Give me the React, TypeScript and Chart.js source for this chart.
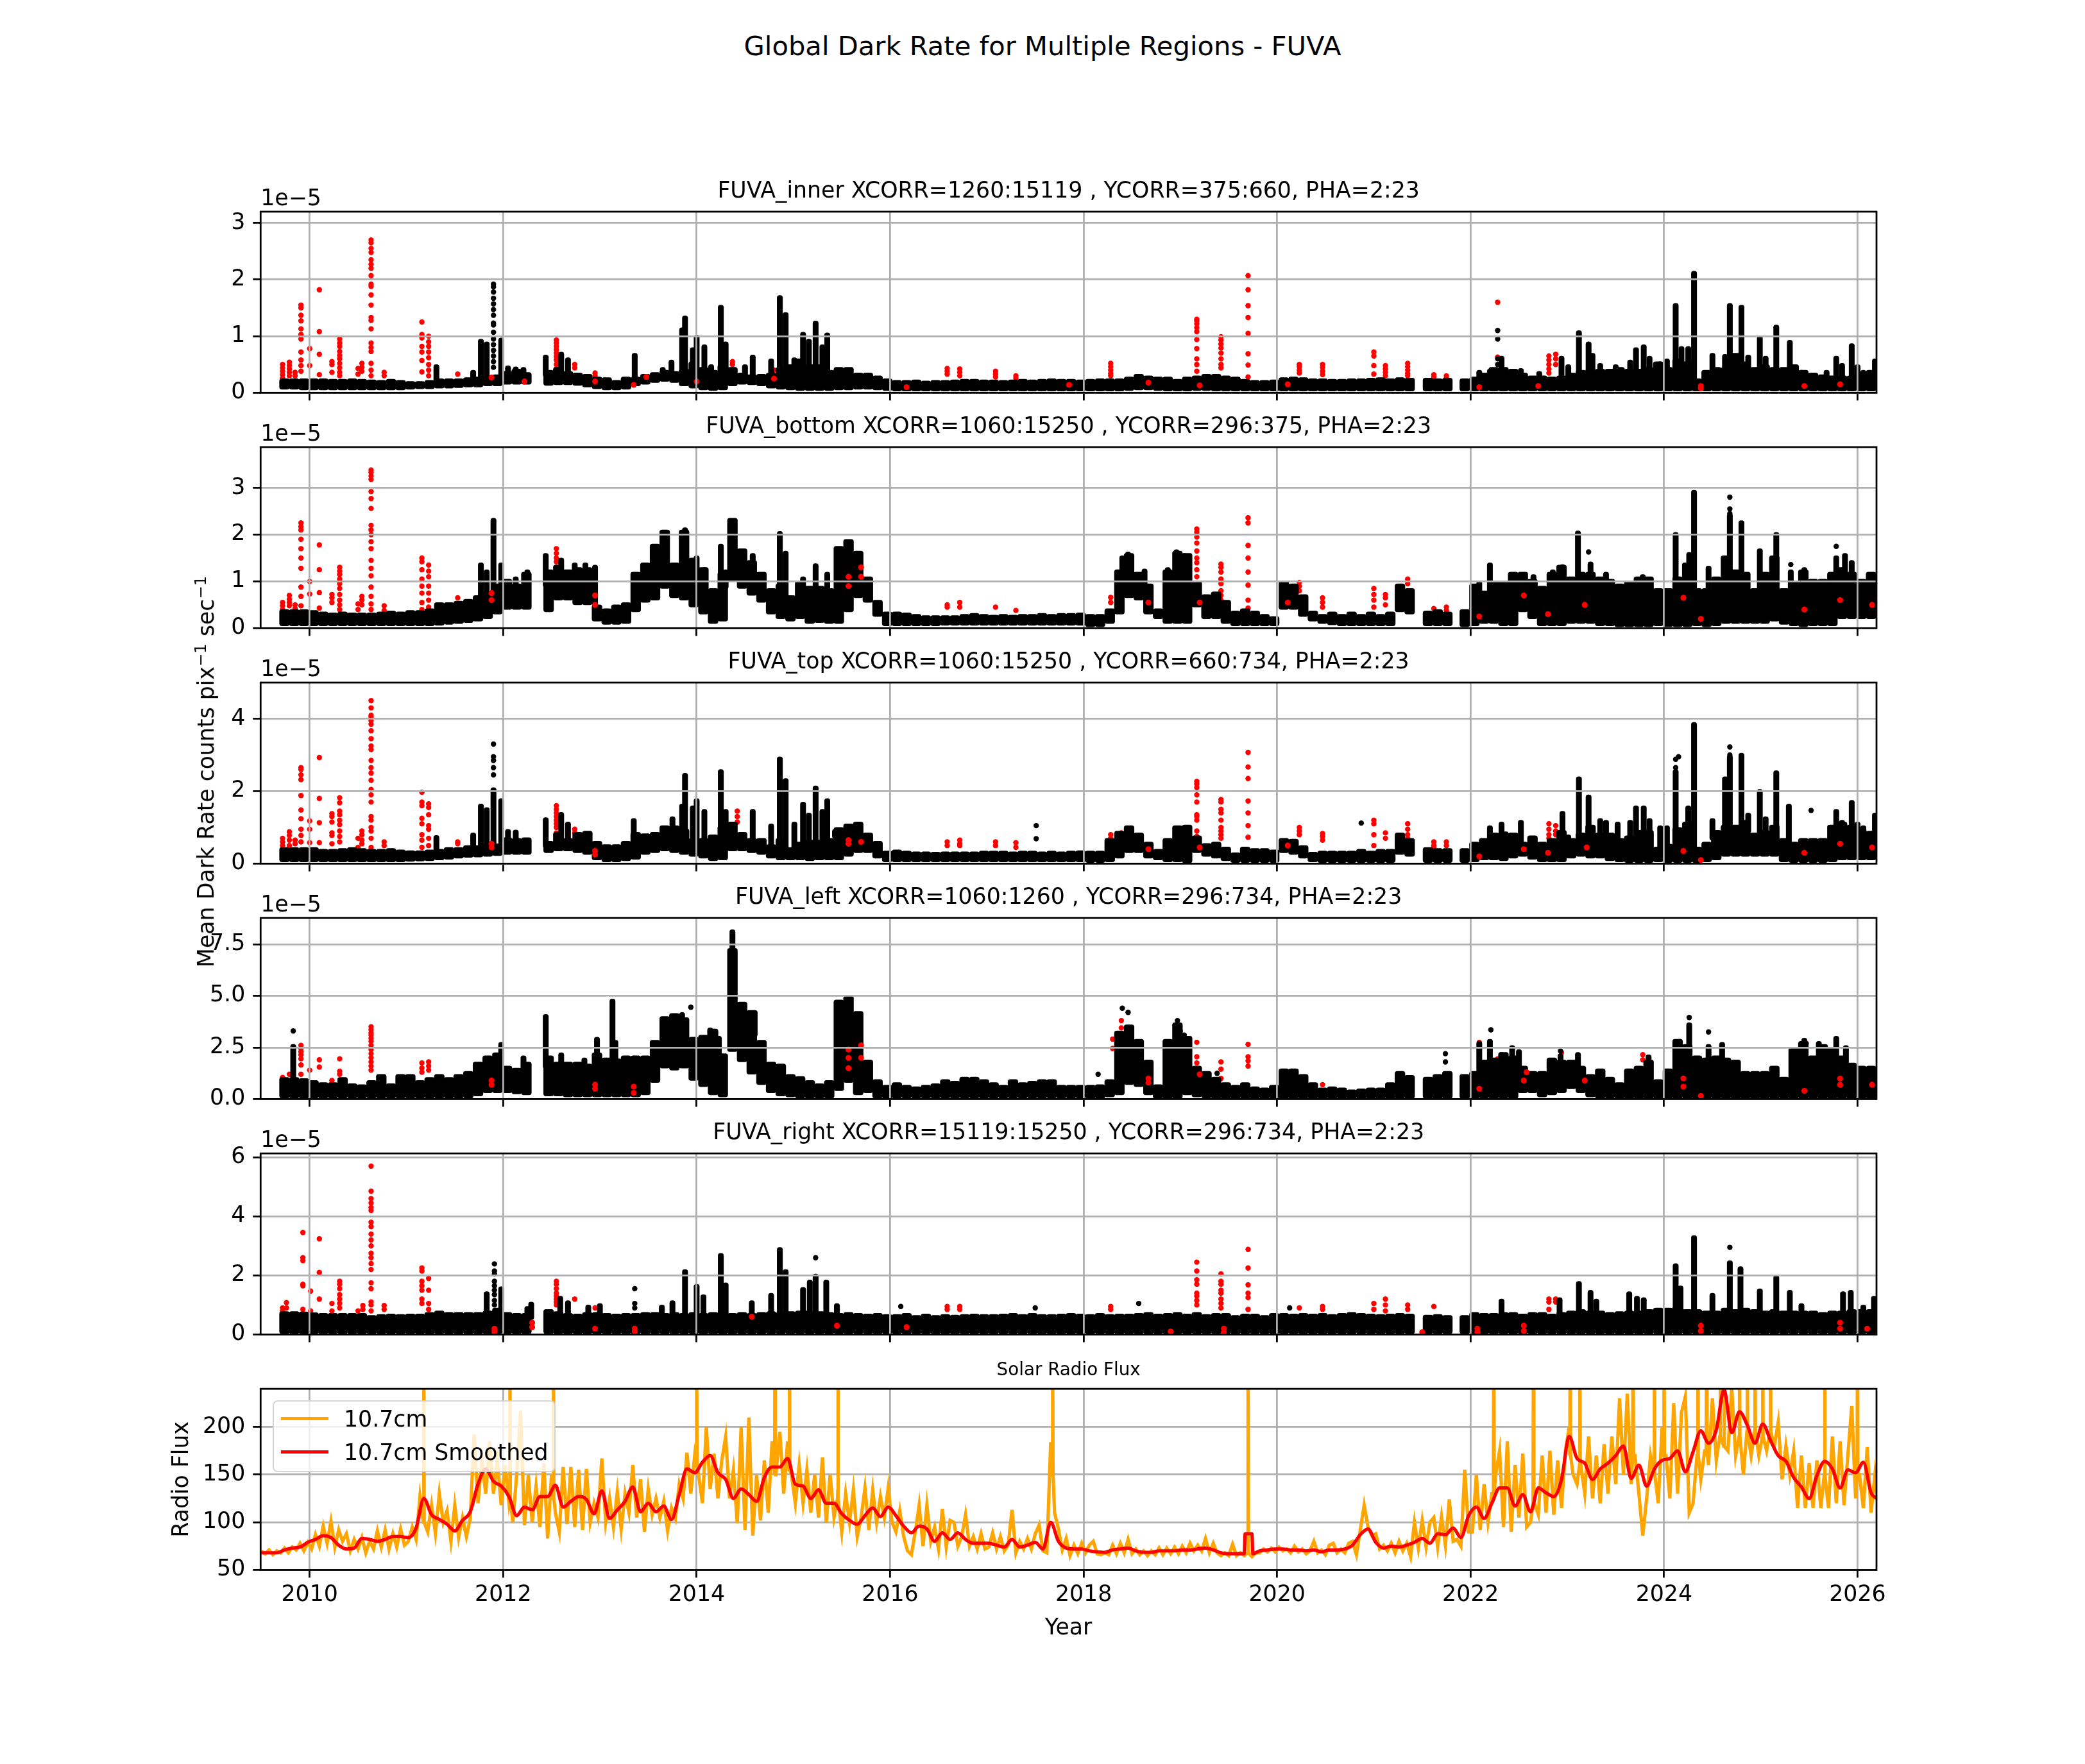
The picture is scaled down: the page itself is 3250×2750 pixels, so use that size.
import { useEffect, useRef } from "react";
import Chart from "chart.js/auto";

const FONT = "DejaVu Sans";
const TICK_PT = 34.72;
const LINE = 2.78;
const GRID_COLOR = "#b0b0b0";

// x positions of the dense black range marks, holes in the data are left out
const bandYears = [
	2009.74, 2009.84, 2009.94,
	2010.04, 2010.14, 2010.24, 2010.34, 2010.44, 2010.54, 2010.64, 2010.74, 2010.84, 2010.94,
	2011.04, 2011.14, 2011.24, 2011.34, 2011.44, 2011.54, 2011.64, 2011.74, 2011.84, 2011.94,
	2012.04, 2012.14, 2012.24,
	2012.47, 2012.57, 2012.67, 2012.77, 2012.87, 2012.97,
	2013.07, 2013.17, 2013.27, 2013.37, 2013.47, 2013.57, 2013.67, 2013.77, 2013.87, 2013.97,
	2014.07, 2014.17, 2014.27, 2014.37, 2014.47, 2014.57, 2014.67, 2014.77, 2014.87, 2014.97,
	2015.07, 2015.17, 2015.27, 2015.37, 2015.47, 2015.57, 2015.67, 2015.77, 2015.87, 2015.97,
	2016.07, 2016.17, 2016.27, 2016.37, 2016.47, 2016.57, 2016.67, 2016.77, 2016.87, 2016.97,
	2017.07, 2017.17, 2017.27, 2017.37, 2017.47, 2017.57, 2017.67, 2017.77, 2017.87, 2017.97,
	2018.07, 2018.17, 2018.27, 2018.37, 2018.47, 2018.57, 2018.67, 2018.77, 2018.87, 2018.97,
	2019.07, 2019.17, 2019.27, 2019.37, 2019.47, 2019.57, 2019.67, 2019.77, 2019.87, 2019.97,
	2020.07, 2020.17, 2020.27, 2020.37, 2020.47, 2020.57, 2020.67, 2020.77, 2020.87, 2020.97,
	2021.07, 2021.17, 2021.27, 2021.37,
	2021.56, 2021.66, 2021.76,
	2021.94,
	2022.04, 2022.14, 2022.24, 2022.34, 2022.44, 2022.54, 2022.64, 2022.74, 2022.84, 2022.94,
	2023.04, 2023.14, 2023.24, 2023.34, 2023.44, 2023.54, 2023.64, 2023.74, 2023.84, 2023.94,
	2024.04, 2024.14, 2024.24, 2024.34, 2024.44, 2024.54, 2024.64, 2024.74, 2024.84, 2024.94,
	2025.04, 2025.14, 2025.24, 2025.34, 2025.44, 2025.54, 2025.64, 2025.74, 2025.84, 2025.94,
	2026.04, 2026.14, 2026.24,
];

const innerHigh = [
	.25, .25, .25,
	.25, .25, .24, .24, .25, .24, .23, .22, .24, .22,
	.2, .2, .22, .25, .25, .25, .27, .28, .28, .32,
	.38, .42, .36,
	.4, .45, .38, .35, .33, .28,
	.27, .22, .28, .28, .33, .36, .4, .38, .42, .55,
	.45, .4, .5, .45, .35, .32, .33, .35, .45, .5,
	.6, .5, .5, .4, .45, .45, .35, .35, .3, .25,
	.22, .22, .23, .21, .22, .22, .23, .24, .24, .23,
	.23, .22, .23, .24, .23, .24, .25, .24, .24, .23,
	.24, .25, .25, .25, .28, .33, .3, .28, .28, .24,
	.28, .3, .33, .33, .3, .28, .24, .22, .22, .23,
	.27, .28, .27, .25, .25, .24, .24, .25, .25, .26,
	.27, .25, .27, .26,
	.26, .25, .26,
	.25,
	.28, .35, .45, .45, .42, .35, .3, .3, .28, .3,
	.35, .4, .42, .42, .42, .45, .42, .42, .45, .55,
	.45, .6, .55, .25, .4, .45, .45, .7, .55, .45,
	.5, .45, .45, .5, .4, .35, .32, .3, .3, .3,
	.35, .4, .55,
];
const innerLow = [
	.06, .06, .05,
	.05, .05, .05, .05, .05, .05, .05, .05, .05, .05,
	.06, .07, .07, .08, .08, .09, .1, .1, .12, .12,
	.15, .15, .15,
	.13, .14, .14, .13, .1, .07,
	.05, .05, .06, .12, .15, .18, .2, .18, .12, .08,
	.05, .04, .05, .12, .15, .14, .12, .08, .06, .05,
	.04, .04, .04, .04, .05, .05, .06, .06, .05, .04,
	.03, .03, .03, .03, .03, .03, .03, .03, .03, .03,
	.03, .03, .03, .03, .03, .03, .03, .03, .03, .03,
	.03, .03, .03, .03, .04, .05, .05, .04, .03, .03,
	.03, .04, .04, .03, .03, .03, .03, .03, .03, .03,
	.03, .03, .03, .03, .03, .03, .03, .03, .03, .03,
	.03, .03, .03, .03,
	.03, .03, .03,
	.03,
	.03, .03, .03, .03, .03, .03, .03, .03, .03, .03,
	.03, .03, .03, .03, .03, .03, .03, .03, .03, .03,
	.03, .03, .03, .03, .03, .03, .03, .03, .03, .03,
	.03, .03, .03, .03, .03, .03, .03, .03, .03, .03,
	.03, .03, .03,
];
const innerSpikes = [
	[2011.31, .5], [2011.69, .4], [2011.77, .95], [2011.83, .9], [2011.98, .97], [2012.05, .48], [2012.13, .46], [2012.21, .45],
	[2012.44, .67], [2012.6, .72], [2012.67, .62], [2013.36, .7], [2013.65, .45], [2013.74, .58], [2013.85, 1.15], [2013.88, 1.36],
	[2013.96, .8], [2014.0, 1.02], [2014.08, .85], [2014.15, .5], [2014.25, 1.55], [2014.3, .9], [2014.5, .5], [2014.58, .67],
	[2014.77, .6], [2014.86, 1.72], [2014.92, 1.42], [2015.01, .62], [2015.1, 1.07], [2015.16, .95], [2015.23, 1.27], [2015.3, .85],
	[2015.35, 1.06], [2015.44, .4], [2022.09, .4], [2022.2, .42], [2022.32, .65], [2022.52, .43], [2022.71, .38], [2022.94, .65],
	[2023.01, .5], [2023.12, 1.1], [2023.22, .9], [2023.26, .7], [2023.34, .52], [2023.5, .5], [2023.65, .58], [2023.71, .8],
	[2023.79, .85], [2023.85, .65], [2023.96, .55], [2024.03, .6], [2024.12, 1.58], [2024.18, .82], [2024.25, .82], [2024.31, 2.15],
	[2024.5, .7], [2024.63, .68], [2024.68, 1.58], [2024.8, 1.55], [2024.87, .67], [2024.99, 1.0], [2025.05, .65], [2025.16, 1.2],
	[2025.3, .93], [2025.42, .4], [2025.68, .4], [2025.78, .65], [2025.84, .52], [2025.94, .87], [2026.0, .5], [2026.06, .4], [2026.18, .6],
];
// each column: year, then the values of the dots in it
const innerBlack = [
	[2011.9, 1.92, 1.87, 1.78, 1.67, 1.57, 1.47, 1.37, 1.23, 1.2, 1.07, .95, .85, .75, .65, .55, .45],
	[2022.28, 1.1, .95, .6, .5],
];
const innerRed = [
	[2009.72, .5, .44, .38, .32, .26],
	[2009.79, .54, .48, .42, .36, .3],
	[2009.85, .36, .3],
	[2009.91, 1.55, 1.5, 1.37, 1.27, 1.13, 1.03, .95, .72, .58, .48, .38],
	[2010.0, .78, .48],
	[2010.1, 1.82, 1.08, .68, .32],
	[2010.23, .55, .5, .36],
	[2010.31, .95, .88, .82, .73, .66, .6, .52, .44, .36, .3],
	[2010.5, .43, .33],
	[2010.54, .52, .45, .38],
	[2010.635, 2.7, 2.65, 2.55, 2.48, 2.35, 2.27, 2.2, 2.07, 1.92, 1.88, 1.73, 1.55, 1.33, 1.28, 1.13, .88, .8, .73, .52, .4, .3],
	[2010.77, .36, .3],
	[2011.16, 1.25, 1.03, .97, .82, .72, .57, .37],
	[2011.23, 1.0, .9, .82, .72, .62, .5, .4, .3],
	[2011.53, .33],
	[2012.55, .93, .88, .82, .76, .7, .64, .58, .5, .42],
	[2012.74, .5, .44],
	[2012.95, .35, .3],
	[2014.37, .55, .5],
	[2014.8, .4],
	[2016.59, .43, .38, .33],
	[2016.72, .42, .36, .3],
	[2017.09, .38, .33, .28],
	[2017.3, .3, .26],
	[2018.28, .52, .46, .4, .34, .3],
	[2019.17, 1.3, 1.27, 1.22, 1.15, 1.08, .94, .78, .6, .5, .38],
	[2019.42, .99, .93, .86, .79, .7, .6, .5, .44],
	[2019.7, 2.07, 1.82, 1.54, 1.33, 1.05, .69, .49, .28],
	[2020.23, .5, .46, .4, .35],
	[2020.47, .5, .45, .38, .32],
	[2021.0, .72, .65, .48, .33],
	[2021.12, .48, .42, .36, .3],
	[2021.35, .52, .46, .4, .34, .3],
	[2021.62, .32, .28],
	[2021.75, .3, .26],
	[2022.28, 1.6, .63],
	[2022.81, .65, .58, .5, .42, .35],
	[2022.88, .68, .6, .5],
];
const innerBlobs = [
	[2011.88, .27], [2012.22, .2], [2012.95, .2], [2013.35, .14], [2013.48, .28], [2014.0, .2], [2014.8, .25],
	[2016.17, .1], [2017.85, .14], [2018.67, .18], [2019.2, .13], [2020.11, .15], [2022.09, .1], [2022.7, .12],
	[2024.38, .08], [2024.38, .12], [2025.45, .12], [2025.82, .15],
];

const bottomHigh = [
	.4, .4, .4,
	.38, .35, .33, .35, .33, .33, .33, .35, .37, .35,
	.38, .38, .42, .55, .55, .58, .62, .7, .78, .95,
	1.05, .95, 1.2,
	1.25, 1.35, 1.25, 1.3, 1.3, .5,
	.42, .5, .55, 1.2, 1.4, 1.8, 2.1, 1.4, 2.1, 1.5,
	1.3, .85, 1.2, 2.35, 1.7, 1.45, 1.2, .85, .95, .7,
	1.0, .9, .9, .85, 1.75, 1.9, 1.65, 1.1, .6, .35,
	.35, .33, .3, .27, .27, .27, .27, .3, .32, .3,
	.28, .3, .28, .3, .3, .32, .3, .32, .32, .33,
	.3, .3, .42, 1.25, 1.6, 1.2, .95, .42, 1.25, 1.65,
	1.6, 1.0, .72, .78, .6, .37, .42, .37, .3, .25,
	1.0, .95, .72, .37, .3, .35, .3, .35, .3, .35,
	.3, .35, .95, .85,
	.37, .4, .35,
	.4,
	.95, .8, 1.0, 1.0, 1.2, 1.2, 1.05, .9, 1.2, 1.35,
	1.1, 1.2, 1.2, 1.1, 1.05, .95, 1.0, 1.1, 1.1, .85,
	.85, 1.1, 1.4, .85, .85, 1.1, 1.55, 1.25, 1.2, .85,
	1.2, 1.55, .85, 1.0, 1.25, 1.05, 1.05, 1.2, 1.3, 1.2,
	1.05, 1.2, 1.2,
];
const bottomLow = [
	.05, .05, .05,
	.05, .05, .05, .05, .05, .05, .05, .05, .05, .05,
	.05, .05, .05, .06, .08, .1, .12, .15, .2, .3,
	.4, .4, .4,
	.35, .6, .6, .5, .5, .15,
	.08, .08, .1, .35, .55, .6, .85, .65, .6, .45,
	.3, .1, .15, 1.0, .85, .7, .55, .3, .2, .15,
	.2, .1, .12, .1, .1, .35, .65, .55, .25, .05,
	.05, .05, .05, .05, .05, .06, .06, .06, .06, .06,
	.06, .06, .06, .06, .06, .06, .06, .06, .06, .06,
	.03, .03, .1, .3, .65, .6, .3, .2, .1, .1,
	.1, .45, .2, .2, .1, .05, .05, .05, .05, .05,
	.4, .4, .25, .15, .1, .07, .05, .05, .05, .05,
	.05, .05, .35, .3,
	.05, .05, .05,
	.03,
	.05, .1, .1, .05, .05, .35, .2, .05, .05, .05,
	.1, .1, .1, .05, .05, .03, .03, .03, .03, .05,
	.03, .03, .03, .05, .03, .05, .1, .1, .1, .1,
	.1, .15, .08, .05, .03, .05, .05, .05, .2, .2,
	.2, .2, .2,
];
const bottomSpikes = [
	[2011.77, 1.4], [2011.83, 1.25], [2011.9, 2.35], [2011.98, 1.4], [2012.13, 1.1], [2012.25, 1.25], [2012.44, 1.6], [2012.6, 1.5],
	[2012.74, 1.4], [2012.85, 1.4], [2012.95, 1.35], [2013.36, 1.1], [2013.88, 2.15], [2014.0, 1.55], [2014.08, 1.3], [2014.25, 1.8],
	[2014.3, 1.25], [2014.58, 1.6], [2014.86, 2.07], [2014.92, 1.65], [2015.1, 1.1], [2015.23, 1.38], [2015.35, 1.2], [2018.4, 1.55],
	[2018.46, 1.63], [2018.63, 1.27], [2018.87, 1.3], [2018.96, 1.68], [2019.04, 1.6], [2022.09, 1.0], [2022.2, 1.4], [2022.65, 1.15],
	[2022.85, 1.25], [2022.95, 1.36], [2023.11, 2.08], [2023.24, 1.42], [2023.4, 1.2], [2023.78, 1.15], [2024.12, 2.05], [2024.26, 1.62],
	[2024.31, 2.95], [2024.46, 1.33], [2024.65, 1.55], [2024.68, 2.45], [2024.8, 2.3], [2024.99, 1.7], [2025.16, 2.05], [2025.31, 1.25],
	[2025.45, 1.3], [2025.78, 1.55], [2025.87, 1.6], [2025.94, 1.45],
];
const bottomBlack = [
	[2024.68, 2.8, 2.55, 2.45],
	[2023.22, 1.63],
	[2025.31, 1.36],
	[2025.78, 1.75],
];
const bottomRed = [
	[2009.72, .55, .48, .4],
	[2009.79, .7, .62, .55, .48],
	[2009.85, .5, .42],
	[2009.91, 2.25, 2.17, 2.1, 1.9, 1.7, 1.5, 1.28, .88, .68, .48],
	[2010.0, 1.0, .73],
	[2010.1, 1.78, 1.25, .76, .43],
	[2010.23, .72, .65, .55],
	[2010.31, 1.3, 1.22, 1.15, 1.05, .95, .85, .72, .6, .5, .4],
	[2010.5, .52, .4],
	[2010.54, .68, .6, .5],
	[2010.635, 3.38, 3.33, 3.25, 3.18, 2.92, 2.77, 2.56, 2.2, 2.1, 2.0, 1.85, 1.7, 1.45, 1.28, 1.12, .88, .68, .52, .4],
	[2010.77, .48, .38],
	[2011.16, 1.5, 1.42, 1.25, 1.05, .9, .75, .55, .4],
	[2011.23, 1.35, 1.22, 1.1, .9, .75, .6, .45],
	[2011.53, .65],
	[2012.55, 1.7, 1.6, 1.5, 1.42, 1.3, 1.2],
	[2014.39, 2.05, 1.8],
	[2016.59, .5, .45],
	[2016.72, .55, .45],
	[2017.09, .45],
	[2017.3, .38],
	[2018.28, .66, .55],
	[2019.17, 2.12, 2.05, 1.95, 1.82, 1.65, 1.5, 1.4, 1.25, 1.1, .95],
	[2019.42, 1.37, 1.3, 1.2, 1.05, .95, .8, .7, .6],
	[2019.7, 2.36, 2.25, 1.77, 1.5, 1.2, .92, .6, .43],
	[2020.23, .98, .9, .8],
	[2020.47, .65, .55, .45],
	[2021.0, .85, .72, .6, .45],
	[2021.12, .72, .65, .5],
	[2021.35, 1.05, .95, .8],
	[2021.62, .42],
	[2021.75, .45, .38],
];
const bottomBlobs = [
	[2011.88, .6], [2011.88, .75], [2012.95, .5], [2012.95, .7], [2015.57, .9], [2015.57, 1.1], [2015.7, 1.3], [2015.7, 1.1], [2018.67, .55],
	[2019.2, .55], [2020.11, .55], [2022.09, .25], [2022.55, .7], [2022.8, .3], [2023.18, .5], [2024.2, .65], [2024.38, .2], [2025.45, .4],
	[2025.82, .6], [2026.15, .5],
];

const topHigh = [
	.45, .45, .45,
	.45, .4, .4, .42, .45, .42, .4, .4, .42, .38,
	.36, .36, .38, .4, .45, .45, .5, .5, .55, .55,
	.72, .7, .72,
	.62, .87, .7, .87, .9, .62,
	.53, .53, .62, .87, .83, .87, 1.05, 1.05, .96, .7,
	.7, .8, 1.05, 1.15, .87, .7, .7, .53, .7, .45,
	.6, .65, .65, .7, 1.0, 1.1, 1.15, .85, .62, .35,
	.38, .35, .33, .33, .32, .33, .33, .33, .33, .35,
	.35, .35, .33, .35, .35, .33, .35, .33, .35, .36,
	.35, .35, .7, .9, 1.05, .85, .6, .4, .7, 1.05,
	1.07, .77, .56, .6, .46, .3, .46, .42, .42, .38,
	.7, .68, .5, .32, .35, .35, .35, .35, .4, .35,
	.4, .4, .85, .7,
	.45, .42, .42,
	.42,
	.6, .7, .85, .88, .85, .6, .77, .6, .7, .92,
	.7, .85, 1.07, .85, .85, .7, .77, .92, .92, .46,
	.54, 1.0, 1.15, .46, .6, .92, 1.07, 1.07, 1.2, .85,
	.92, 1.07, .7, .6, .7, .7, .7, 1.07, 1.15, 1.07,
	.95, .9, 1.0,
];
const topLow = [
	.05, .05, .05,
	.05, .05, .05, .05, .05, .05, .05, .05, .05, .05,
	.06, .07, .08, .1, .12, .15, .17, .18, .2, .22,
	.25, .25, .25,
	.3, .35, .35, .3, .25, .1,
	.05, .05, .08, .12, .25, .3, .35, .3, .25, .2,
	.15, .08, .1, .35, .35, .3, .25, .15, .1, .1,
	.1, .08, .1, .1, .1, .2, .3, .3, .15, .05,
	.05, .05, .05, .05, .05, .05, .05, .05, .05, .05,
	.05, .05, .05, .05, .05, .05, .05, .05, .05, .05,
	.03, .03, .05, .15, .3, .3, .15, .1, .05, .05,
	.02, .3, .2, .15, .08, .03, .03, .03, .03, .03,
	.3, .25, .15, .05, .03, .03, .03, .03, .03, .03,
	.03, .03, .25, .2,
	.03, .03, .03,
	.03,
	.05, .1, .1, .08, .15, .2, .12, .05, .05, .05,
	.15, .2, .15, .15, .08, .05, .03, .03, .03, .05,
	.03, .03, .03, .03, .05, .1, .2, .2, .2, .2,
	.2, .2, .05, .03, .03, .03, .03, .05, .1, .1,
	.1, .1, .1,
];
const topSpikes = [
	[2011.31, .78], [2011.69, .85], [2011.77, 1.65], [2011.83, 1.55], [2011.9, 2.1], [2011.98, 1.8], [2012.05, .95], [2012.13, .93],
	[2012.44, 1.27], [2012.6, 1.42], [2012.67, 1.15], [2013.35, 1.25], [2013.75, 1.3], [2013.85, 1.65], [2013.88, 2.5], [2013.96, 1.6],
	[2014.0, 1.8], [2014.08, 1.5], [2014.25, 2.6], [2014.3, 1.5], [2014.58, 1.5], [2014.77, 1.1], [2014.86, 2.95], [2014.92, 2.35],
	[2015.01, 1.15], [2015.1, 1.7], [2015.16, 1.4], [2015.23, 2.15], [2015.3, 1.5], [2015.35, 1.8], [2015.43, .95], [2022.2, 1.05],
	[2022.32, 1.15], [2022.52, 1.2], [2022.95, 1.45], [2023.01, .8], [2023.12, 2.4], [2023.22, 1.9], [2023.34, 1.25], [2023.4, 1.2],
	[2023.52, 1.15], [2023.65, 1.2], [2023.71, 1.6], [2023.79, 1.6], [2023.85, 1.25], [2023.96, 1.05], [2024.03, 1.05], [2024.12, 2.6],
	[2024.25, 1.6], [2024.31, 3.9], [2024.5, 1.25], [2024.63, 2.4], [2024.68, 3.0], [2024.8, 3.05], [2024.87, 1.4], [2024.99, 2.05],
	[2025.05, 1.3], [2025.16, 2.57], [2025.29, 1.65], [2025.78, 1.5], [2025.84, 1.2], [2025.94, 1.75], [2026.0, 1.15], [2026.06, 1.05], [2026.18, 1.4],
];
const topBlack = [
	[2011.9, 3.3, 2.95, 2.85, 2.65, 2.45],
	[2017.51, 1.05, .69],
	[2020.87, 1.12],
	[2024.12, 2.88, 2.65],
	[2024.15, 2.95],
	[2024.68, 3.22, 3.0],
	[2025.52, 1.47],
];
const topRed = [
	[2009.72, .7, .6, .5],
	[2009.79, .88, .78, .65, .5],
	[2009.85, .65, .55],
	[2009.91, 2.65, 2.6, 2.45, 2.32, 1.88, 1.48, 1.24, .95, .78, .6],
	[2010.0, 1.18, .95, .58],
	[2010.1, 2.93, 1.8, 1.13, .58],
	[2010.23, 1.38, 1.3, 1.15, .85, .78, .55],
	[2010.31, 1.82, 1.68, 1.45, 1.35, 1.2, 1.08, .9, .75, .6],
	[2010.5, .7, .45],
	[2010.54, .9, .8, .65, .55],
	[2010.635, 4.5, 4.3, 4.1, 4.05, 3.95, 3.85, 3.67, 3.45, 3.25, 3.15, 2.85, 2.65, 2.5, 2.3, 2.05, 1.9, 1.7, 1.3, 1.2, 1.0, .9, .7, .45],
	[2010.77, .6, .5],
	[2011.16, 1.97, 1.7, 1.6, 1.25, 1.1, .8, .65, .45],
	[2011.23, 1.65, 1.55, 1.35, 1.05, .95, .7, .5],
	[2011.53, .6, .55],
	[2012.55, 1.6, 1.5, 1.4, 1.3, 1.2, 1.1, 1.0, .85],
	[2012.74, .95, .85],
	[2012.95, .55, .45],
	[2014.42, 1.45, 1.3, 1.15],
	[2016.59, .6, .5],
	[2016.72, .65, .55, .5],
	[2017.09, .6, .5],
	[2017.3, .58, .45],
	[2018.28, .8, .7, .6, .5],
	[2018.39, .85, .75],
	[2019.17, 2.27, 2.2, 2.1, 1.9, 1.7, 1.35, 1.3, 1.2, .9, .75],
	[2019.42, 1.77, 1.7, 1.5, 1.4, 1.2, 1.0, .9, .8, .7],
	[2019.7, 3.07, 2.67, 2.35, 1.73, 1.4, 1.05, .73, .35],
	[2020.23, 1.0, .9, .8],
	[2020.47, .83, .75, .65],
	[2021.0, 1.2, 1.1, .8, .5],
	[2021.12, .85, .7],
	[2021.35, 1.1, .95, .8, .7],
	[2021.62, .6, .5, .45],
	[2021.75, .6, .5],
	[2022.81, 1.1, .95, .8, .7],
	[2022.88, 1.05, .9, .8],
];
const topBlobs = [
	[2011.88, .55], [2011.88, .45], [2012.95, .35], [2012.95, .25], [2015.57, .65], [2015.57, .55], [2015.7, .6], [2018.67, .4], [2019.2, .45],
	[2020.11, .5], [2022.09, .2], [2022.55, .4], [2022.8, .3], [2023.2, .45], [2024.2, .35], [2024.38, .1], [2025.45, .3], [2025.82, .55], [2026.15, .45],
];

const leftHigh = [
	1.05, 1.05, 1.0,
	.9, .8, .8, 1.05, .75, .7, .9, 1.2, .75, 1.2,
	1.2, .9, 1.05, 1.2, 1.05, 1.2, 1.35, 1.8, 2.1, 2.25,
	1.6, 1.5, 1.8,
	2.1, 1.8, 1.8, 1.8, 1.7, 2.25,
	2.0, 1.95, 2.1, 2.1, 2.1, 2.85, 4.0, 4.15, 3.95, 3.0,
	3.1, 3.4, 2.2, 7.3, 4.7, 4.3, 2.85, 1.8, 1.7, 1.2,
	1.1, .9, .75, .9, 4.8, 5.0, 4.25, 1.9, .95, .68,
	.8, .68, .6, .68, .75, .95, .87, 1.07, 1.07, .95,
	.8, .68, .95, .8, .87, .95, .95, .68, .68, .68,
	.68, .7, .95, 3.3, 3.6, 2.9, 1.9, .7, 2.9, 3.7,
	3.05, 1.6, 1.35, 1.07, .8, .68, .8, .6, .55, .68,
	1.47, 1.47, 1.2, .8, .55, .6, .55, .45, .5, .55,
	.55, .8, 1.35, 1.15,
	1.07, 1.2, 1.35,
	1.2,
	1.35, 1.9, 2.0, 2.26, 2.1, 1.6, 1.35, 1.35, 2.0, 1.9,
	1.9, 1.6, 1.2, 1.47, 1.07, .8, 1.47, 1.6, 1.9, .95,
	1.47, 2.9, 2.65, 2.1, 2.0, 2.1, 2.0, 1.9, 1.35, 1.35,
	1.35, 1.6, 1.07, 2.5, 2.8, 2.1, 2.65, 2.5, 2.1, 1.75,
	1.6, 1.6, 1.6,
];
const leftLow = [
	.05, .05, .05,
	.05, .05, .05, .05, .05, .05, .05, .05, .05, .05,
	.05, .05, .05, .05, .05, .05, .05, .15, .3, .3,
	.3, .25, .2,
	.15, .15, .1, .1, .1, .1,
	.1, .1, .1, .1, .2, .8, 1.5, 1.4, 1.5, .9,
	.6, .2, .1, 2.3, 1.8, 1.2, .7, .3, .15, .1,
	.05, .05, .05, .05, .4, .8, .2, .3, .05, .03,
	.05, .05, .05, .05, .05, .05, .05, .05, .05, .05,
	.05, .05, .05, .05, .05, .05, .05, .05, .05, .05,
	.03, .03, .1, .2, .7, .6, .2, .03, .03, .03,
	.2, .1, .05, .03, .03, .03, .03, .03, .03, .03,
	.03, .03, .03, .03, .03, .03, .03, .03, .03, .03,
	.03, .03, .03, .03,
	.03, .03, .03,
	.03,
	.03, .05, .03, .05, .03, .3, .3, .1, .2, .3,
	.5, .3, .1, .03, .05, .03, .03, .03, .03, .03,
	.03, .03, .03, .03, .03, .03, .03, .03, .03, .03,
	.03, .03, .03, .03, .03, .03, .03, .03, .03, .03,
	.03, .03, .03,
];
const leftSpikes = [
	[2009.83, 2.65], [2011.98, 2.75], [2012.21, 2.1], [2012.44, 4.1], [2012.6, 2.25], [2012.84, 2.0], [2012.97, 3.0], [2013.13, 4.85],
	[2013.16, 2.85], [2013.85, 4.2], [2014.14, 3.45], [2014.23, 3.05], [2014.37, 8.2], [2014.48, 4.5], [2014.6, 4.3], [2022.09, 2.8],
	[2022.2, 2.9], [2022.32, 2.26], [2022.43, 2.6], [2022.5, 2.4], [2022.93, 2.2], [2023.11, 2.26], [2023.84, 2.15], [2024.16, 2.9],
	[2024.26, 3.7], [2024.46, 2.65], [2024.6, 2.75], [2025.32, 2.5], [2025.45, 2.95], [2025.6, 2.8], [2025.78, 3.05], [2025.88, 2.6],
];
const leftBlack = [
	[2009.83, 3.3],
	[2013.94, 4.45],
	[2018.4, 4.4],
	[2018.46, 4.2],
	[2019.04, 3.1],
	[2018.97, 3.8],
	[2019.38, 1.25],
	[2018.15, 1.2],
	[2021.74, 2.2, 1.8],
	[2022.21, 3.35],
	[2022.93, 2.33],
	[2024.26, 3.95],
	[2024.46, 3.25],
];
const leftRed = [
	[2009.72, 1.05],
	[2009.79, 1.2],
	[2009.91, 2.6, 2.45, 2.3, 2.15, 1.95, 1.65, 1.2],
	[2010.0, 1.4],
	[2010.1, 1.9, 1.55],
	[2010.23, .9],
	[2010.31, 1.95, 1.35, 1.2],
	[2010.635, 3.5, 3.35, 3.2, 3.1, 2.95, 2.8, 2.6, 2.4, 2.2, 2.0, 1.8, 1.6, 1.4],
	[2011.16, 1.75, 1.5, 1.3],
	[2011.23, 1.8, 1.6, 1.4],
	[2018.39, 3.8, 3.45],
	[2018.3, 2.9, 2.45],
	[2019.0, 3.3, 3.05],
	[2019.17, 2.75, 2.05, 1.75, 1.35],
	[2019.42, 1.8, 1.45, 1.0],
	[2019.7, 2.65, 2.05, 1.85, 1.6],
	[2020.47, .7],
	[2022.09, 2.75, 2.4, 2.05],
	[2022.28, 1.95],
	[2022.94, 2.25],
	[2023.78, 2.15, 1.9],
	[2024.23, 2.0, 1.8, 1.45],
	[2024.46, 2.25],
	[2025.47, 2.7],
	[2025.63, 2.5],
];
const leftBlobs = [
	[2011.88, .9], [2011.88, .7], [2012.95, .7], [2012.95, .5], [2013.35, .6], [2013.35, .3], [2015.57, 1.5], [2015.57, 2.0], [2015.57, 2.4],
	[2015.7, 2.0], [2015.7, 2.6], [2018.67, .8], [2018.67, 1.0], [2019.2, 1.2], [2022.09, .5], [2022.55, .9], [2022.58, 1.3], [2023.18, .9],
	[2024.2, 1.0], [2024.2, .6], [2024.38, .15], [2025.45, .4], [2025.82, 1.0], [2025.82, .7], [2026.15, .7],
];

const rightHigh = [
	.78, .78, .77,
	.74, .72, .72, .72, .72, .72, .65, .68, .7, .68,
	.7, .7, .75, .8, .75, .75, .75, .75, .8, .9,
	.75, .72, .72,
	.85, .78, .72, .7, .75, .75,
	.72, .7, .72, .72, .75, .75, .72, .75, .72, .75,
	.72, .75, .78, .72, .75, .72, .75, .78, .75, .78,
	.8, .8, .78, .75, .72, .75, .72, .7, .72, .68,
	.68, .72, .65, .7, .65, .68, .66, .68, .7, .68,
	.68, .7, .72, .68, .72, .68, .68, .7, .72, .7,
	.68, .72, .68, .7, .7, .72, .75, .7, .72, .75,
	.7, .75, .68, .72, .72, .65, .7, .7, .65, .72,
	.72, .7, .72, .7, .72, .68, .72, .75, .72, .7,
	.68, .7, .72, .7,
	.66, .68, .65,
	.65,
	.75, .72, .72, .75, .75, .7, .75, .75, .7, .75,
	.8, .85, .8, .8, .75, .78, .8, .8, .85, .9,
	.9, .95, .85, .85, .8, .8, .9, .85, .9, .85,
	.8, .85, .8, .8, .8, .8, .75, .8, .8, .85,
	.85, .85, .9,
];
const rightLow = .03;
const rightSpikes = [
	[2011.83, 1.45], [2011.98, 1.62], [2012.29, 1.1], [2012.25, .95], [2012.59, 1.3], [2012.67, 1.15], [2012.88, 1.0], [2013.0, 1.05],
	[2013.64, 1.0], [2013.75, 1.15], [2013.88, 2.2], [2014.0, 1.7], [2014.07, 1.35], [2014.25, 2.75], [2014.3, 1.75], [2014.57, 1.15],
	[2014.77, 1.4], [2014.86, 2.95], [2014.92, 2.2], [2015.1, 1.6], [2015.17, 1.85], [2015.23, 2.05], [2015.34, 1.85], [2015.45, 1.05],
	[2022.32, 1.2], [2022.92, 1.25], [2023.12, 1.8], [2023.24, 1.5], [2023.3, 1.2], [2023.64, 1.45], [2023.72, 1.3], [2023.79, 1.25],
	[2024.12, 2.4], [2024.17, 1.65], [2024.31, 3.35], [2024.5, 1.4], [2024.68, 2.5], [2024.79, 2.3], [2024.99, 1.55], [2025.16, 2.0],
	[2025.3, 1.5], [2025.42, 1.05], [2025.85, 1.45], [2025.93, 1.5], [2026.06, 1.0], [2026.17, 1.3],
];
const rightBlack = [
	[2011.91, 2.39, 2.15, 2.05, 1.8, 1.65, 1.5, 1.35, 1.15, 1.0],
	[2013.36, 1.55, 1.05, .9],
	[2015.23, 2.6],
	[2016.11, .95],
	[2017.5, .9],
	[2018.57, 1.05],
	[2020.13, .9],
	[2024.68, 2.95],
];
const rightRed = [
	[2009.72, .9, .8],
	[2009.76, 1.08, .9],
	[2009.93, 3.45, 2.6, 2.5, 1.7, 1.65, .85],
	[2010.01, 1.47, .8],
	[2010.1, 3.24, 2.1, 1.2],
	[2010.23, 1.05, .8],
	[2010.31, 1.8, 1.7, 1.55, 1.35, 1.2, 1.05, .9],
	[2010.5, .8],
	[2010.55, .98, .85],
	[2010.635, 5.7, 4.85, 4.6, 4.45, 4.3, 4.2, 3.8, 3.65, 3.4, 3.2, 3.0, 2.75, 2.6, 2.4, 2.2, 1.75, 1.55, 1.1, 1.0, .8],
	[2010.77, .98, .85],
	[2011.16, 2.25, 2.15, 1.8, 1.65, 1.5, 1.2, 1.05],
	[2011.23, 1.9, 1.5, 1.05, .85],
	[2012.55, 1.8, 1.7, 1.55, 1.4, 1.3, 1.2, 1.1, 1.0],
	[2012.74, 1.2],
	[2012.95, .9],
	[2016.59, .95, .85],
	[2016.72, .95, .85],
	[2018.28, .95, .85],
	[2019.17, 2.45, 2.15, 1.85, 1.7, 1.4, 1.3, 1.15, 1.0],
	[2019.42, 2.05, 1.8, 1.7, 1.5, 1.4, 1.2, 1.05, .9],
	[2019.7, 2.88, 2.25, 1.68, 1.4, 1.25, .85],
	[2020.23, .9],
	[2020.47, .95, .85],
	[2021.0, 1.05, .85],
	[2021.12, 1.2, 1.0, .8],
	[2021.35, 1.0, .85],
	[2021.62, .95],
	[2022.81, 1.2, 1.1, .85],
	[2022.88, 1.2, 1.1],
];
const rightBlobs = [
	[2011.91, .2], [2011.91, .1], [2012.3, .4], [2012.3, .25], [2012.95, .2], [2013.36, .2], [2013.36, .1], [2014.57, .6],
	[2015.45, .3], [2016.17, .25], [2018.9, .1], [2019.45, .2], [2019.45, .08], [2021.5, .08], [2022.07, .2], [2022.07, .08],
	[2022.55, .3], [2022.55, .12], [2024.38, .3], [2024.38, .12], [2025.82, .4], [2025.82, .2], [2026.1, .2],
];

// solar flux, one value every 0.04 year starting at fluxStart
const fluxStart = 2009.5;
const fluxStep = 0.04;
const fluxDaily = [
	70, 67, 71, 66, 70, 68, 73, 68, 74, 71, 78, 70, 79,
	72, 87, 75, 96, 78, 101, 74, 92, 80, 88, 70, 82, 72, 84, 68, 80, 72, 91, 74, 92, 72, 88, 74, 93, 76,
	80, 95, 82, 127, 100, 90, 118, 88, 130, 100, 112, 80, 118, 84, 105, 85, 104, 192, 120, 165, 130, 185, 130, 165, 118,
	160, 120, 100, 150, 217, 97, 150, 100, 138, 95, 162, 83, 150, 110, 90, 158, 98, 158, 95, 155, 92, 156, 100, 120, 105,
	167, 100, 125, 95, 132, 93, 130, 110, 160, 105, 145, 90, 135, 108, 125, 105, 122, 91, 115, 104, 140, 125, 173, 130, 170,
	150, 120, 200, 135, 172, 125, 165, 190, 125, 155, 99, 200, 92, 210, 86, 150, 102, 165, 110, 185, 150, 195, 130, 185, 150,
	120, 160, 120, 155, 110, 150, 105, 168, 100, 150, 105, 135, 90, 130, 100, 134, 85, 105, 136, 92, 134, 100, 127, 105, 136,
	100, 90, 112, 85, 70, 66, 90, 118, 75, 118, 80, 95, 72, 114, 74, 102, 100, 75, 85, 108, 75, 85, 72, 88, 72,
	74, 89, 72, 85, 70, 76, 113, 68, 80, 72, 83, 72, 88, 97, 70, 68, 184, 110, 93, 71, 83, 65, 76, 67, 78,
	68, 76, 80, 67, 66, 68, 66, 76, 67, 78, 68, 82, 67, 72, 66, 70, 65, 70, 66, 73, 66, 73, 67, 74, 67,
	75, 68, 78, 70, 76, 70, 83, 68, 78, 68, 65, 68, 65, 77, 65, 68, 65, 66, 64, 68, 68, 72, 69, 73, 69,
	74, 70, 72, 68, 75, 69, 72, 67, 70, 80, 68, 71, 66, 76, 78, 68, 72, 68, 78, 80, 66, 92, 118, 95, 86,
	88, 72, 76, 70, 78, 68, 80, 70, 78, 64, 100, 73, 102, 74, 100, 105, 74, 106, 76, 124, 80, 82, 75, 155, 90,
	90, 150, 92, 140, 100, 130, 150, 175, 95, 185, 90, 160, 105, 172, 95, 100, 120, 108, 170, 110, 175, 108, 165, 115, 175,
	200, 150, 140, 160, 130, 190, 125, 170, 120, 182, 130, 190, 140, 230, 150, 235, 140, 170, 130, 86, 125, 170, 150, 120, 200,
	170, 125, 225, 130, 215, 232, 110, 120, 170, 145, 175, 160, 230, 165, 190, 180, 175, 240, 170, 190, 150, 195, 170, 195, 170,
	190, 175, 195, 180, 205, 145, 180, 150, 175, 115, 170, 115, 162, 115, 165, 115, 150, 115, 190, 120, 185, 118, 170, 222, 125,
	150, 115, 179, 110, 150, 110,
];
// flares that leave the top of the panel: year, level on both sides of the peak
const fluxFlares = [
	[2011.18, 100], [2012.07, 125], [2012.52, 125], [2014.0, 160], [2014.81, 150], [2014.96, 155], [2015.46, 125], [2017.68, 150],
	[2019.7, 68], [2022.24, 130], [2022.65, 120], [2023.03, 170], [2023.13, 160], [2023.68, 170], [2023.9, 150], [2024.0, 170],
	[2024.35, 170], [2024.44, 175], [2024.58, 190], [2024.62, 180], [2024.78, 190], [2024.86, 195], [2024.94, 195], [2025.02, 190],
	[2025.1, 195], [2025.66, 150], [2026.0, 150],
];
const flareTop = 320;
const fluxSmoothYears = [
	2009.5, 2009.58, 2009.66, 2009.74, 2009.82, 2009.9, 2009.98,
	2010.06, 2010.14, 2010.22, 2010.3, 2010.38, 2010.46, 2010.54, 2010.62, 2010.7, 2010.78, 2010.86, 2010.94,
	2011.02, 2011.1, 2011.18, 2011.26, 2011.34, 2011.42, 2011.5, 2011.58, 2011.66, 2011.74, 2011.82, 2011.9, 2011.98,
	2012.06, 2012.14, 2012.22, 2012.3, 2012.38, 2012.46, 2012.54, 2012.62, 2012.7, 2012.78, 2012.86, 2012.94,
	2013.02, 2013.1, 2013.18, 2013.26, 2013.34, 2013.42, 2013.5, 2013.58, 2013.66, 2013.74, 2013.82, 2013.9, 2013.98,
	2014.06, 2014.14, 2014.22, 2014.3, 2014.38, 2014.46, 2014.54, 2014.62, 2014.7, 2014.78, 2014.86, 2014.94,
	2015.02, 2015.1, 2015.18, 2015.26, 2015.34, 2015.42, 2015.5, 2015.58, 2015.66, 2015.74, 2015.82, 2015.9, 2015.98,
	2016.06, 2016.14, 2016.22, 2016.3, 2016.38, 2016.46, 2016.54, 2016.62, 2016.7, 2016.78, 2016.86, 2016.94,
	2017.02, 2017.1, 2017.18, 2017.26, 2017.34, 2017.42, 2017.5, 2017.58, 2017.66, 2017.74, 2017.82, 2017.9, 2017.98,
	2018.06, 2018.14, 2018.22, 2018.3, 2018.38, 2018.46, 2018.54, 2018.62, 2018.7, 2018.78, 2018.86, 2018.94,
	2019.02, 2019.1, 2019.18, 2019.26, 2019.34, 2019.42, 2019.5, 2019.58, 2019.66, 2019.67, 2019.74, 2019.75, 2019.82, 2019.9, 2019.98,
	2020.06, 2020.14, 2020.22, 2020.3, 2020.38, 2020.46, 2020.54, 2020.62, 2020.7, 2020.78, 2020.86, 2020.94,
	2021.02, 2021.1, 2021.18, 2021.26, 2021.34, 2021.42, 2021.5, 2021.58, 2021.66, 2021.74, 2021.82, 2021.9, 2021.98,
	2022.06, 2022.14, 2022.22, 2022.3, 2022.38, 2022.46, 2022.54, 2022.62, 2022.7, 2022.78, 2022.86, 2022.94,
	2023.02, 2023.1, 2023.18, 2023.26, 2023.34, 2023.42, 2023.5, 2023.58, 2023.66, 2023.74, 2023.82, 2023.9, 2023.98,
	2024.06, 2024.14, 2024.22, 2024.3, 2024.38, 2024.46, 2024.54, 2024.62, 2024.7, 2024.78, 2024.86, 2024.94,
	2025.02, 2025.1, 2025.18, 2025.26, 2025.34, 2025.42, 2025.5, 2025.58, 2025.66, 2025.74, 2025.82, 2025.9, 2025.98,
	2026.06, 2026.14, 2026.2,
];
const fluxSmooth = [
	68, 68, 68, 71, 73, 74, 79,
	82, 86, 84, 76, 72, 73, 83, 82, 80, 82, 85, 85,
	84, 94, 125, 108, 103, 98, 91, 102, 111, 140, 156, 143, 138,
	127, 107, 116, 113, 127, 127, 139, 116, 122, 127, 124, 109,
	133, 104, 113, 122, 137, 111, 120, 111, 117, 103, 129, 156, 152,
	163, 170, 152, 145, 125, 135, 129, 122, 147, 158, 158, 167,
	140, 138, 125, 134, 120, 120, 109, 102, 98, 107, 115, 106, 116,
	107, 96, 89, 96, 93, 80, 89, 82, 89, 82, 78, 78,
	78, 76, 74, 82, 74, 76, 79, 72, 100, 80, 73, 72, 72,
	70, 69, 68.5, 71, 72, 73, 70, 68.5, 68.5, 70, 70, 70,
	71, 71, 72, 73, 71, 68, 67, 67, 67, 88, 88, 67, 70, 71, 72,
	72, 71, 71, 70, 71, 69, 71, 71, 72, 76, 87, 93,
	79, 73, 75, 74, 76, 79, 83, 78, 88, 87, 94, 84, 107,
	116, 104, 120, 136, 136, 117, 129, 111, 136, 131, 127, 145,
	190, 167, 162, 145, 156, 162, 170, 180, 146, 160, 138, 156, 165,
	167, 175, 153, 174, 196, 183, 197, 239, 194, 216, 202, 183,
	203, 186, 170, 164, 147, 137, 125, 149, 164, 156, 136, 155, 152,
	163, 131, 125,
];

const yearTicks = [2010, 2012, 2014, 2016, 2018, 2020, 2022, 2024, 2026];

type Panel = {
	title: string;
	yMax: number;
	yTicks: number[];
	digits: number;
	high: number[];
	low: number[] | number;
	spikes: number[][];
	black: number[][];
	red: number[][];
	blobs: number[][];
};

const panels: Panel[] = [
	{ title: "FUVA_inner XCORR=1260:15119 , YCORR=375:660, PHA=2:23", yMax: 3.2, yTicks: [0, 1, 2, 3], digits: 0, high: innerHigh, low: innerLow, spikes: innerSpikes, black: innerBlack, red: innerRed, blobs: innerBlobs },
	{ title: "FUVA_bottom XCORR=1060:15250 , YCORR=296:375, PHA=2:23", yMax: 3.87, yTicks: [0, 1, 2, 3], digits: 0, high: bottomHigh, low: bottomLow, spikes: bottomSpikes, black: bottomBlack, red: bottomRed, blobs: bottomBlobs },
	{ title: "FUVA_top XCORR=1060:15250 , YCORR=660:734, PHA=2:23", yMax: 5.0, yTicks: [0, 2, 4], digits: 0, high: topHigh, low: topLow, spikes: topSpikes, black: topBlack, red: topRed, blobs: topBlobs },
	{ title: "FUVA_left XCORR=1060:1260 , YCORR=296:734, PHA=2:23", yMax: 8.77, yTicks: [0, 2.5, 5, 7.5], digits: 1, high: leftHigh, low: leftLow, spikes: leftSpikes, black: leftBlack, red: leftRed, blobs: leftBlobs },
	{ title: "FUVA_right XCORR=15119:15250 , YCORR=296:734, PHA=2:23", yMax: 6.13, yTicks: [0, 2, 4, 6], digits: 0, high: rightHigh, low: rightLow, spikes: rightSpikes, black: rightBlack, red: rightRed, blobs: rightBlobs },
];

const AXES_LEFT = 406.25;
const AXES_RIGHT = 2925;
const AXES_TOP = 330;
const AXES_H = 282.33;
const AXES_PITCH = 367.03;
const X_MIN = 2009.493;
const X_MAX = 2026.196;

const columnsToPoints = (columns: number[][]) =>
	columns.flatMap(([x, ...ys]) => ys.map((y) => ({ x, y })));

const nearestHigh = (p: Panel, x: number) => {
	let best = 0;
	bandYears.forEach((year, i) => {
		if (Math.abs(year - x) < Math.abs(bandYears[best] - x)) best = i;
	});
	return p.high[best];
};

// the flares are narrower than the 0.04 year grid, so they get their own points
const fluxDailyPoints = () =>
	[
		...fluxDaily.map((y, k) => ({ x: fluxStart + k * fluxStep, y })),
		...fluxFlares.flatMap(([x, base]) => [
			{ x: x - 0.004, y: base },
			{ x, y: flareTop },
			{ x: x + 0.004, y: base },
		]),
	].sort((a, b) => a.x - b.x);

// top and right spine are not axes in chart.js, so the frame is stroked here
const framePlugin = (offsetText: string | null) => ({
	id: "frame",
	afterDraw(chart: any) {
		const { ctx, chartArea: a } = chart;
		ctx.save();
		ctx.strokeStyle = "#000";
		ctx.lineWidth = LINE;
		ctx.strokeRect(a.left, a.top, a.right - a.left, a.bottom - a.top);
		if (offsetText) {
			ctx.fillStyle = "#000";
			ctx.font = `${TICK_PT}px "${FONT}"`;
			ctx.textAlign = "left";
			ctx.textBaseline = "alphabetic";
			ctx.fillText(offsetText, a.left, a.top - 10);
		}
		ctx.restore();
	},
});

const axes = (
	yMax: number,
	yMin: number,
	yTicks: number[],
	digits: number,
	below: number,
	gridZ: number,
	showYears: boolean,
	yTitle?: string,
) => ({
	x: {
		type: "linear",
		min: X_MIN,
		max: X_MAX,
		offset: false,
		afterBuildTicks: (s: any) => {
			s.ticks = yearTicks.map((value) => ({ value }));
		},
		afterFit: (s: any) => {
			s.height = below;
		},
		grid: { color: GRID_COLOR, lineWidth: LINE, tickColor: "#000", tickWidth: LINE, tickLength: 12, z: gridZ, offset: false },
		border: { display: false },
		ticks: { display: showYears, color: "#000", padding: 7, maxRotation: 0, autoSkip: false, font: { size: TICK_PT }, callback: (v: any) => String(v) },
		title: { display: showYears, text: "Year", color: "#000", font: { size: TICK_PT }, padding: { top: 0, bottom: 18 } },
	},
	y: {
		type: "linear",
		min: yMin,
		max: yMax,
		afterBuildTicks: (s: any) => {
			s.ticks = yTicks.map((value) => ({ value }));
		},
		afterFit: (s: any) => {
			s.width = AXES_LEFT;
		},
		grid: { color: GRID_COLOR, lineWidth: LINE, tickColor: "#000", tickWidth: LINE, tickLength: 12, z: gridZ },
		border: { display: false },
		ticks: { color: "#000", padding: 12, autoSkip: false, font: { size: TICK_PT }, callback: (v: any) => Number(v).toFixed(digits) },
		title: { display: !!yTitle, text: yTitle, color: "#000", font: { size: TICK_PT }, padding: { top: 263, bottom: 0 } },
	},
});

const titleOptions = (text: string, size: number, bottomGap: number) => ({
	display: true,
	text,
	color: "#000",
	fullSize: false,
	font: { size, weight: "normal" as const },
	padding: { top: 0, bottom: bottomGap },
});

function panelConfig(p: Panel, over: number, below: number) {
	const titleGap = 10;
	const titleH = TICK_PT * 1.2 + titleGap;
	return {
		type: "bar",
		data: {
			datasets: [
				{
					type: "scatter",
					label: "flagged",
					data: columnsToPoints(p.red),
					backgroundColor: "#ff0000",
					pointRadius: 4.2,
					pointBorderWidth: 0,
					showLine: false,
					order: 3,
				},
				{
					label: "range",
					data: bandYears.map((x, k) => ({
						x,
						y: [typeof p.low === "number" ? p.low : p.low[k], p.high[k]],
					})),
					backgroundColor: "#000",
					barThickness: 15.6,
					borderRadius: 4,
					borderSkipped: false,
					grouped: false,
					order: 2,
				},
				{
					label: "spikes",
					data: p.spikes.map(([x, top]) => ({ x, y: [nearestHigh(p, x) * 0.7, top] })),
					backgroundColor: "#000",
					barThickness: 8.4,
					borderRadius: 4,
					borderSkipped: false,
					grouped: false,
					order: 2,
				},
				{
					type: "scatter",
					label: "dots",
					data: columnsToPoints(p.black),
					backgroundColor: "#000",
					pointRadius: 4.2,
					pointBorderWidth: 0,
					showLine: false,
					order: 2,
				},
				{
					type: "scatter",
					label: "flagged over",
					data: columnsToPoints(p.blobs),
					backgroundColor: "#ff0000",
					pointRadius: 4.6,
					pointBorderWidth: 0,
					showLine: false,
					order: 1,
				},
			],
		},
		options: {
			responsive: false,
			animation: false,
			devicePixelRatio: 1,
			events: [],
			layout: { padding: { left: 0, right: 3250 - AXES_RIGHT, top: over - titleH, bottom: 0 } },
			plugins: {
				legend: { display: false },
				tooltip: { enabled: false },
				title: titleOptions(p.title, TICK_PT, titleGap),
			},
			scales: axes(p.yMax, 0, p.yTicks, p.digits, below, 1, false),
		},
		plugins: [framePlugin("1e\u22125")],
	};
}

function fluxConfig(over: number, below: number) {
	const titleGap = 12;
	const titleH = 27.78 * 1.2 + titleGap;
	return {
		type: "line",
		data: {
			datasets: [
				{
					label: "10.7cm",
					data: fluxDailyPoints(),
					borderColor: "#ffa500",
					borderWidth: 5.2,
					pointRadius: 0,
					tension: 0,
					order: 2,
				},
				{
					label: "10.7cm Smoothed",
					data: fluxSmooth.map((y, k) => ({ x: fluxSmoothYears[k], y })),
					borderColor: "#ff0000",
					borderWidth: 5.2,
					pointRadius: 0,
					cubicInterpolationMode: "monotone",
					order: 1,
				},
			],
		},
		options: {
			responsive: false,
			animation: false,
			devicePixelRatio: 1,
			events: [],
			layout: { padding: { left: 0, right: 3250 - AXES_RIGHT, top: over - titleH, bottom: 0 } },
			plugins: {
				legend: { display: false },
				tooltip: { enabled: false },
				title: titleOptions("Solar Radio Flux", 27.78, titleGap),
			},
			scales: axes(240, 50, [50, 100, 150, 200], 0, below, -1, true, "Radio Flux"),
		},
		plugins: [framePlugin(null)],
	};
}

function PanelCanvas({ index }: { index: number }) {
	const ref = useRef<HTMLCanvasElement>(null);
	const isFlux = index === panels.length;
	const axesTop = AXES_TOP + index * AXES_PITCH;
	const canvasTop = Math.floor(axesTop - 70);
	const over = axesTop - canvasTop;
	// the y axis keeps half a label of room under the plot, so this can't be smaller
	const belowWanted = isFlux ? 130 : 40;
	const canvasH = Math.ceil(over + AXES_H + belowWanted);
	const below = canvasH - over - AXES_H;

	useEffect(() => {
		if (!ref.current) return;
		const config: any = isFlux ? fluxConfig(over, below) : panelConfig(panels[index], over, below);
		const chart = new Chart(ref.current, config);
		return () => chart.destroy();
	}, [index]);

	return (
		<canvas
			ref={ref}
			width={3250}
			height={canvasH}
			style={{ position: "absolute", left: 0, top: canvasTop, width: 3250, height: canvasH }}
		/>
	);
}

function Legend() {
	const row = (color: string, text: string, top: number) => (
		<div style={{ position: "absolute", left: 0, top, height: 42, width: "100%" }}>
			<div style={{ position: "absolute", left: 11, top: 18, width: 74, height: 5.2, background: color }} />
			<div style={{ position: "absolute", left: 109, top: 0, lineHeight: "42px", whiteSpace: "nowrap" }}>{text}</div>
		</div>
	);
	return (
		<div
			style={{
				position: "absolute",
				left: 425,
				top: 2183,
				width: 441,
				height: 112,
				boxSizing: "border-box",
				background: "rgba(255,255,255,0.8)",
				border: `${LINE}px solid rgba(204,204,204,0.8)`,
				borderRadius: 8,
				fontSize: TICK_PT,
			}}
		>
			{row("#ffa500", "10.7cm", 6)}
			{row("#ff0000", "10.7cm Smoothed", 58)}
		</div>
	);
}

export default function App() {
	Chart.defaults.font.family = FONT;
	const sup = { fontSize: "0.7em", verticalAlign: "0.5em", lineHeight: 0 };
	return (
		<div
			style={{
				position: "absolute",
				left: 0,
				top: 0,
				width: 3250,
				height: 2750,
				overflow: "hidden",
				background: "#fff",
				color: "#000",
				fontFamily: `"${FONT}"`,
			}}
		>
			{[0, 1, 2, 3, 4, 5].map((i) => (
				<PanelCanvas key={i} index={i} />
			))}
			<div style={{ position: "absolute", left: 0, top: 47, width: 3250, textAlign: "center", fontSize: 41.67, lineHeight: "50px" }}>
				Global Dark Rate for Multiple Regions - FUVA
			</div>
			<div
				style={{
					position: "absolute",
					left: 321,
					top: 1203,
					fontSize: TICK_PT,
					lineHeight: "42px",
					whiteSpace: "nowrap",
					transform: "translate(-50%, -50%) rotate(-90deg)",
				}}
			>
				Mean Dark Rate counts pix<span style={sup}>−1</span> sec<span style={sup}>−1</span>
			</div>
			<Legend />
		</div>
	);
}
